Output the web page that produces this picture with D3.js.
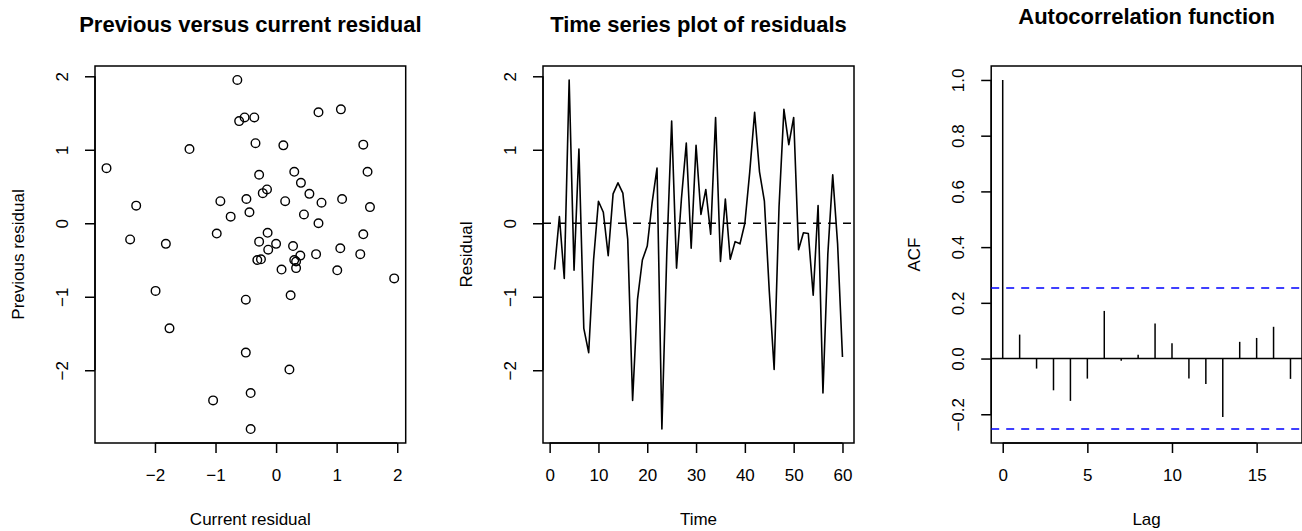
<!DOCTYPE html>
<html>
<head>
<meta charset="utf-8">
<script src="https://cdn.jsdelivr.net/npm/d3@7"></script>
<style>
  body { margin: 0; background: #fff; }
  svg  { font-family: "Liberation Sans", Arial, sans-serif; }
</style>
</head>
<body>
<svg width="1302" height="531"></svg>
<script>
// residuals (t = 1..60)
const residuals = [
  -0.63,  0.09, -0.75,  1.95, -0.64,  1.01, -1.43, -1.76, -0.50,  0.30,
   0.15, -0.44,  0.40,  0.55,  0.41, -0.22, -2.41, -1.04, -0.50, -0.31,
   0.28,  0.75, -2.80, -0.42,  1.39, -0.61,  0.33,  1.09, -0.34,  1.06,
   0.12,  0.46, -0.15,  1.44, -0.52,  0.33, -0.49, -0.25, -0.28,  0.00,
   0.70,  1.51,  0.70,  0.30, -0.92, -1.99,  0.22,  1.55,  1.07,  1.44,
  -0.36, -0.13, -0.14, -0.98,  0.24, -2.31, -0.42,  0.66, -0.28, -1.82
];
const times = residuals.map((d, i) => i + 1);

const acfLags   = [0, 1, 2, 3, 4, 5, 6, 7, 8, 9, 10, 11, 12, 13, 14, 15, 16, 17];
const acfValues = [1.000, 0.086, -0.036, -0.114, -0.152, -0.072, 0.171, -0.008, 0.014,
                   0.126, 0.055, -0.072, -0.091, -0.210, 0.060, 0.074, 0.114, -0.073];
const acfLimit  = 0.253;

const residTicks = [-2, -1, 0, 1, 2];
const timeTicks  = [0, 10, 20, 30, 40, 50, 60];
const lagTicks   = [0, 5, 10, 15];
const acfTicks   = [-0.2, 0, 0.2, 0.4, 0.6, 0.8, 1.0];

const titles  = ["Previous versus current residual", "Time series plot of residuals", "Autocorrelation function"];
const xLabels = ["Current residual", "Time", "Lag"];
const yLabels = ["Previous residual", "Residual", "ACF"];

let svg     = d3.select("svg"),
    plotTop = 66,
    plotBot = 443,
    boxes   = [[95, 405.7], [543, 854], [991.2, 1302]],
    fs      = 17;

// R style range padding (4% each side)
function pad(ext) {
  let r = ext[1] - ext[0];
  return [ext[0] - 0.04 * r, ext[1] + 0.04 * r];
}

function drawFrame(i, x, y, xt, yt, xFmt, yFmt) {
  let g = svg.append("g");

  g.append("rect")
    .attr("x", boxes[i][0]).attr("y", plotTop)
    .attr("width", boxes[i][1] - boxes[i][0]).attr("height", plotBot - plotTop)
    .attr("fill", "none").attr("stroke", "#000").attr("stroke-width", 1.5);

  let ax = g.append("g")
    .attr("transform", `translate(0,${plotBot})`)
    .call(d3.axisBottom(x).tickValues(xt).tickSize(10).tickPadding(16)
            .tickSizeOuter(0).tickFormat(xFmt));
  ax.select(".domain").remove();
  ax.append("line")
    .attr("x1", x(xt[0])).attr("x2", x(xt[xt.length - 1]))
    .attr("stroke", "#000").attr("stroke-width", 1.5);
  ax.selectAll(".tick line").attr("stroke-width", 1.5);
  ax.selectAll("text").attr("font-size", fs).attr("fill", "#000")
    .attr("font-family", "Liberation Sans, Arial, sans-serif");

  let ay = g.append("g")
    .attr("transform", `translate(${boxes[i][0]},0)`)
    .call(d3.axisLeft(y).tickValues(yt).tickSize(10).tickSizeOuter(0).tickFormat(yFmt));
  ay.select(".domain").remove();
  ay.append("line")
    .attr("y1", y(yt[0])).attr("y2", y(yt[yt.length - 1]))
    .attr("stroke", "#000").attr("stroke-width", 1.5);
  ay.selectAll(".tick line").attr("stroke-width", 1.5);
  ay.selectAll("text")
    .attr("x", 0).attr("y", -27).attr("dy", 0)
    .attr("text-anchor", "middle")
    .attr("transform", "rotate(-90)")
    .attr("font-size", fs).attr("fill", "#000")
    .attr("font-family", "Liberation Sans, Arial, sans-serif");

  let cx = (boxes[i][0] + boxes[i][1]) / 2;
  g.append("text")
    .attr("x", cx).attr("y", i == 2 ? 24 : 31.5)
    .attr("text-anchor", "middle")
    .attr("font-size", 22).attr("font-weight", "bold")
    .text(titles[i]);
  g.append("text")
    .attr("x", cx).attr("y", 525)
    .attr("text-anchor", "middle")
    .attr("font-size", fs)
    .text(xLabels[i]);
  g.append("text")
    .attr("transform", `translate(${boxes[i][0] - 71},${(plotTop + plotBot) / 2}) rotate(-90)`)
    .attr("text-anchor", "middle")
    .attr("font-size", fs)
    .text(yLabels[i]);
  return g;
}

let intFmt = d3.format("d"),
    decFmt = d3.format(".1f");

// panel 1: previous vs current residual
let cur  = residuals.slice(1),
    prev = residuals.slice(0, -1),
    x1   = d3.scaleLinear().domain(pad(d3.extent(cur))).range(boxes[0]),
    y1   = d3.scaleLinear().domain(pad(d3.extent(prev))).range([plotBot, plotTop]);

let g1 = drawFrame(0, x1, y1, residTicks, residTicks, intFmt, intFmt);
g1.selectAll(".pt")
  .data(cur)
  .enter().append("circle")
    .attr("class", "pt")
    .attr("cx", d => x1(d))
    .attr("cy", (d, i) => y1(prev[i]))
    .attr("r", 4.3)
    .attr("fill", "none").attr("stroke", "#000").attr("stroke-width", 1.4);

// panel 2: time series
let x2 = d3.scaleLinear().domain(pad(d3.extent(times))).range(boxes[1]),
    y2 = d3.scaleLinear().domain(pad(d3.extent(residuals))).range([plotBot, plotTop]);

let g2 = drawFrame(1, x2, y2, timeTicks, residTicks, intFmt, intFmt);
g2.append("line")
  .attr("x1", boxes[1][0]).attr("x2", boxes[1][1])
  .attr("y1", y2(0)).attr("y2", y2(0))
  .attr("stroke", "#000").attr("stroke-width", 1.5).attr("stroke-dasharray", "8,7");
g2.append("path")
  .datum(residuals)
  .attr("d", d3.line().x((d, i) => x2(times[i])).y(d => y2(d)))
  .attr("fill", "none").attr("stroke", "#000").attr("stroke-width", 1.6)
  .attr("stroke-linejoin", "round");

// panel 3: acf
let x3 = d3.scaleLinear().domain(pad(d3.extent(acfLags))).range(boxes[2]),
    y3 = d3.scaleLinear().domain(pad([-acfLimit, 1])).range([plotBot, plotTop]);

let g3 = drawFrame(2, x3, y3, lagTicks, acfTicks, intFmt, decFmt);
g3.append("line")
  .attr("x1", boxes[2][0]).attr("x2", boxes[2][1])
  .attr("y1", y3(0)).attr("y2", y3(0))
  .attr("stroke", "#000").attr("stroke-width", 1.5);
g3.selectAll(".clim")
  .data([acfLimit, -acfLimit])
  .enter().append("line")
    .attr("class", "clim")
    .attr("x1", boxes[2][0]).attr("x2", boxes[2][1])
    .attr("y1", d => y3(d)).attr("y2", d => y3(d))
    .attr("stroke", "#0000ff").attr("stroke-width", 1.5).attr("stroke-dasharray", "8,7");
g3.selectAll(".bar")
  .data(acfValues)
  .enter().append("line")
    .attr("class", "bar")
    .attr("x1", (d, i) => x3(acfLags[i])).attr("x2", (d, i) => x3(acfLags[i]))
    .attr("y1", y3(0)).attr("y2", d => y3(d))
    .attr("stroke", "#000").attr("stroke-width", 1.5);
</script>
</body>
</html>
